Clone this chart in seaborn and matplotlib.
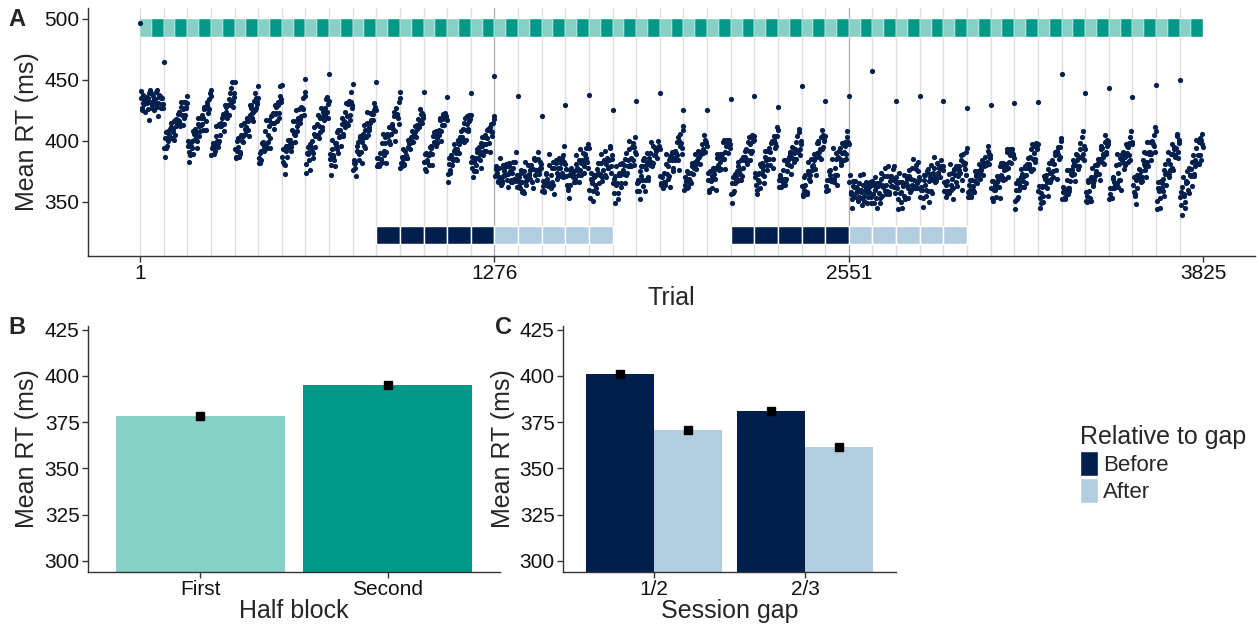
import numpy as np
import pandas as pd
import matplotlib.pyplot as plt
import seaborn as sns
from matplotlib.patches import Patch

# panel A: mean RT per trial, 45 blocks of 85 trials (3 sessions of 15 blocks)
block_len = 85
n_blocks = 45
# first trial of every block (the high point on each block line)
first_trial_rt = [497, 465, 437, 442, 448, 445, 446, 451, 455, 447, 448, 440, 440, 436, 439,
                  453, 437, 420, 429, 438, 425, 433, 439, 425, 425, 434, 437, 428, 445, 433,
                  437, 457, 433, 437, 433, 427, 429, 431, 432, 455, 439, 443, 436, 446, 450]
# rest of each block, read at trial offsets 2, 6, ..., 82 (a) and 4, 8, ..., 84 (b)
session1_a = [
    [435, 427, 438, 430, 424, 436, 433, 426, 439, 432, 429, 437, 425, 434, 440, 428, 431, 438, 427, 435, 430],
    [394, 402, 394, 408, 405, 402, 415, 402, 410, 416, 405, 418, 422, 416, 414, 428, 421, 426, 419, 432, 428],
    [396, 391, 388, 399, 394, 408, 401, 407, 400, 414, 412, 408, 419, 414, 419, 428, 416, 429, 427, 426, 439],
    [388, 398, 396, 392, 404, 400, 398, 414, 412, 412, 422, 414, 420, 428, 419, 429, 434, 430, 443, 433, 439],
    [393, 387, 400, 395, 391, 405, 404, 399, 415, 410, 409, 419, 409, 421, 429, 419, 424, 433, 425, 435, 432],
    [382, 390, 384, 398, 397, 395, 408, 397, 405, 412, 402, 415, 421, 415, 415, 429, 423, 429, 423, 437, 434],
    [387, 383, 380, 392, 387, 401, 395, 401, 395, 409, 408, 405, 416, 412, 417, 426, 415, 428, 427, 426, 440],
    [381, 390, 389, 384, 397, 392, 390, 406, 404, 404, 414, 405, 412, 419, 411, 420, 425, 421, 434, 424, 430],
    [385, 380, 393, 387, 384, 398, 398, 393, 409, 404, 404, 414, 404, 416, 424, 415, 420, 430, 421, 432, 429],
    [376, 384, 378, 392, 391, 389, 402, 391, 399, 406, 396, 409, 415, 409, 409, 423, 417, 423, 417, 431, 428],
    [386, 381, 379, 390, 385, 398, 392, 398, 391, 405, 404, 400, 411, 406, 412, 420, 408, 421, 420, 419, 432],
    [378, 387, 385, 380, 392, 388, 386, 401, 399, 398, 408, 399, 405, 412, 403, 413, 418, 413, 426, 415, 421],
    [383, 377, 390, 384, 380, 395, 394, 389, 404, 399, 398, 408, 398, 409, 417, 408, 413, 422, 413, 423, 420],
    [373, 381, 374, 388, 386, 384, 397, 385, 393, 400, 390, 403, 408, 402, 401, 415, 409, 414, 408, 421, 418],
    [383, 378, 375, 385, 380, 393, 386, 392, 384, 398, 396, 392, 403, 397, 402, 410, 398, 411, 408, 407, 420],
]
session1_b = [
    [441, 425, 431, 434, 432, 431, 435, 417, 442, 439, 427, 431, 434, 430, 442, 420, 436, 437, 435, 430, 427],
    [387, 407, 396, 400, 403, 410, 411, 407, 401, 417, 412, 415, 417, 424, 412, 432, 413, 432, 421, 427, 431],
    [400, 383, 396, 400, 389, 406, 410, 404, 394, 419, 404, 413, 421, 409, 426, 427, 409, 432, 423, 434, 437],
    [394, 396, 389, 396, 412, 395, 400, 405, 415, 419, 420, 408, 429, 424, 421, 421, 439, 429, 448, 428, 436],
    [386, 392, 402, 387, 389, 413, 400, 404, 406, 411, 416, 416, 404, 429, 427, 423, 416, 439, 427, 430, 435],
    [386, 382, 392, 399, 392, 393, 417, 394, 399, 417, 394, 420, 423, 410, 422, 428, 416, 432, 419, 445, 432],
    [393, 381, 373, 396, 395, 396, 397, 392, 398, 416, 406, 399, 425, 408, 419, 418, 420, 427, 435, 421, 437],
    [374, 395, 391, 376, 395, 400, 386, 411, 395, 405, 421, 402, 407, 427, 409, 424, 417, 427, 436, 419, 433],
    [389, 372, 401, 388, 379, 396, 407, 390, 403, 409, 396, 419, 406, 411, 431, 414, 413, 433, 417, 440, 427],
    [382, 382, 371, 396, 399, 384, 404, 382, 402, 413, 394, 403, 424, 405, 411, 415, 422, 422, 425, 426, 425],
    [379, 386, 381, 382, 383, 406, 388, 403, 382, 406, 411, 397, 406, 414, 410, 424, 400, 427, 422, 414, 435],
    [382, 379, 393, 381, 387, 386, 395, 398, 393, 403, 400, 404, 407, 407, 410, 412, 411, 416, 422, 423, 419],
    [389, 375, 383, 388, 388, 390, 396, 380, 407, 406, 396, 402, 407, 405, 419, 400, 418, 421, 421, 418, 417],
    [366, 386, 376, 380, 384, 392, 393, 390, 384, 401, 397, 400, 403, 410, 399, 419, 401, 420, 410, 416, 421],
    [387, 370, 383, 386, 375, 391, 395, 389, 378, 403, 388, 397, 405, 392, 409, 409, 391, 414, 404, 415, 418],
]
session2_a = [
    [371, 379, 374, 366, 378, 369, 365, 380, 375, 372, 381, 368, 373, 379, 366, 374, 378, 369, 383, 367, 372],
    [370, 361, 374, 366, 359, 375, 371, 364, 380, 372, 369, 380, 366, 377, 386, 372, 376, 385, 373, 383, 378],
    [359, 367, 358, 373, 369, 365, 380, 364, 372, 378, 364, 378, 382, 374, 371, 386, 378, 382, 374, 388, 383],
    [371, 364, 360, 372, 364, 378, 370, 375, 366, 381, 378, 372, 384, 376, 382, 390, 374, 389, 386, 383, 397],
    [360, 369, 365, 359, 372, 364, 361, 377, 374, 372, 382, 370, 376, 384, 372, 381, 386, 378, 394, 379, 385],
    [365, 357, 371, 364, 357, 374, 372, 365, 382, 375, 373, 385, 372, 384, 393, 380, 386, 395, 384, 395, 391],
    [359, 368, 359, 375, 371, 368, 384, 368, 377, 383, 370, 386, 390, 383, 380, 396, 389, 393, 386, 400, 396],
    [371, 365, 361, 374, 366, 381, 373, 379, 371, 387, 384, 378, 391, 384, 390, 399, 384, 400, 396, 394, 409],
    [360, 370, 367, 361, 374, 367, 365, 382, 379, 378, 389, 377, 384, 392, 381, 391, 397, 390, 405, 391, 398],
    [368, 360, 375, 367, 361, 378, 376, 369, 386, 380, 378, 389, 377, 389, 399, 385, 391, 401, 390, 401, 397],
    [356, 365, 357, 373, 370, 367, 383, 368, 377, 384, 371, 387, 392, 385, 383, 399, 392, 397, 390, 405, 401],
    [370, 364, 360, 373, 366, 381, 373, 379, 371, 387, 384, 380, 392, 385, 391, 400, 385, 401, 398, 396, 411],
    [362, 372, 369, 363, 376, 369, 367, 384, 381, 380, 391, 379, 386, 394, 383, 393, 399, 392, 407, 393, 400],
    [363, 355, 370, 364, 358, 375, 373, 367, 385, 379, 377, 389, 377, 390, 400, 387, 393, 403, 393, 405, 401],
    [359, 368, 360, 375, 372, 369, 385, 369, 378, 385, 372, 387, 392, 385, 383, 398, 391, 396, 389, 403, 399],
]
session2_b = [
    [377, 377, 367, 370, 386, 364, 367, 371, 378, 379, 379, 362, 382, 375, 368, 366, 383, 368, 391, 362, 369],
    [363, 366, 376, 358, 357, 383, 367, 369, 371, 373, 376, 377, 361, 385, 384, 376, 368, 391, 375, 378, 381],
    [363, 359, 366, 374, 364, 363, 389, 361, 366, 383, 356, 383, 384, 369, 378, 385, 371, 385, 370, 396, 381],
    [377, 362, 353, 376, 372, 373, 372, 366, 369, 388, 376, 366, 393, 372, 384, 382, 379, 388, 394, 378, 394],
    [353, 374, 367, 351, 370, 372, 357, 382, 365, 373, 389, 367, 371, 392, 370, 385, 378, 384, 396, 374, 388],
    [369, 349, 379, 365, 352, 372, 381, 362, 376, 380, 365, 390, 374, 379, 400, 379, 379, 398, 380, 403, 389],
    [365, 366, 352, 379, 379, 363, 386, 359, 380, 390, 368, 380, 399, 379, 382, 388, 394, 392, 394, 395, 393],
    [364, 370, 363, 366, 364, 389, 369, 384, 362, 388, 391, 375, 386, 392, 388, 403, 376, 406, 398, 389, 412],
    [364, 362, 375, 362, 369, 365, 374, 379, 373, 383, 381, 382, 386, 387, 388, 390, 390, 393, 401, 399, 396],
    [374, 358, 368, 371, 369, 373, 378, 360, 389, 387, 376, 383, 386, 385, 401, 377, 396, 400, 398, 396, 394],
    [349, 370, 359, 365, 368, 375, 379, 373, 368, 385, 378, 384, 387, 393, 381, 403, 384, 403, 392, 400, 404],
    [374, 356, 368, 374, 361, 379, 382, 376, 365, 392, 376, 385, 394, 380, 398, 399, 378, 404, 394, 404, 409],
    [368, 370, 362, 367, 384, 364, 369, 375, 384, 387, 389, 373, 395, 390, 385, 385, 404, 391, 410, 388, 397],
    [356, 360, 372, 356, 356, 383, 369, 372, 376, 380, 384, 386, 372, 398, 398, 391, 385, 409, 395, 400, 404],
    [363, 360, 368, 376, 367, 367, 394, 366, 372, 390, 364, 392, 394, 380, 390, 397, 384, 399, 385, 408, 397],
]
session3_a = [
    [366, 358, 352, 363, 354, 367, 357, 361, 351, 365, 360, 353, 364, 355, 359, 366, 349, 363, 358, 354, 367],
    [356, 365, 360, 353, 365, 357, 353, 369, 364, 362, 371, 359, 364, 371, 358, 367, 371, 363, 377, 362, 367],
    [361, 352, 366, 357, 350, 366, 363, 355, 371, 364, 361, 371, 358, 369, 378, 363, 368, 377, 365, 375, 370],
    [354, 362, 353, 368, 364, 360, 375, 359, 367, 373, 359, 374, 378, 370, 367, 382, 374, 378, 370, 384, 379],
    [366, 359, 354, 367, 359, 373, 364, 369, 361, 376, 372, 366, 378, 371, 376, 384, 368, 383, 380, 377, 391],
    [354, 364, 360, 354, 368, 360, 358, 375, 371, 370, 381, 369, 376, 384, 372, 382, 387, 380, 396, 381, 388],
    [361, 353, 367, 360, 354, 371, 368, 362, 379, 372, 370, 382, 369, 381, 391, 378, 383, 393, 382, 393, 389],
    [351, 360, 352, 368, 365, 362, 377, 362, 371, 378, 365, 381, 386, 379, 377, 393, 385, 390, 383, 398, 394],
    [359, 353, 349, 362, 355, 371, 363, 369, 361, 377, 374, 369, 382, 375, 381, 391, 376, 392, 389, 387, 402],
    [352, 362, 359, 354, 368, 361, 359, 376, 373, 372, 384, 373, 380, 388, 377, 387, 393, 387, 403, 389, 396],
    [358, 350, 366, 359, 353, 370, 369, 363, 380, 374, 373, 385, 373, 385, 396, 383, 389, 399, 389, 401, 397],
    [352, 361, 353, 369, 366, 364, 380, 365, 374, 381, 368, 384, 389, 382, 380, 397, 390, 395, 388, 403, 399],
    [364, 358, 355, 368, 361, 377, 369, 375, 367, 384, 381, 376, 390, 383, 389, 399, 384, 400, 397, 396, 411],
    [351, 361, 359, 353, 367, 361, 359, 376, 373, 373, 384, 373, 381, 389, 378, 389, 395, 388, 404, 391, 398],
    [354, 347, 362, 355, 350, 367, 366, 360, 378, 372, 371, 383, 371, 384, 394, 382, 388, 399, 388, 401, 397],
]
session3_b = [
    [372, 356, 345, 367, 362, 362, 359, 352, 354, 372, 358, 347, 373, 351, 361, 358, 354, 362, 366, 349, 364],
    [349, 370, 362, 345, 363, 365, 349, 374, 355, 363, 378, 356, 359, 379, 356, 371, 363, 369, 379, 357, 370],
    [365, 344, 374, 358, 345, 364, 372, 352, 365, 369, 353, 376, 360, 364, 385, 362, 361, 380, 361, 383, 368],
    [360, 360, 346, 372, 372, 355, 377, 350, 370, 380, 357, 368, 387, 366, 369, 374, 379, 377, 378, 379, 376],
    [359, 364, 356, 359, 357, 381, 360, 374, 352, 377, 379, 363, 373, 379, 374, 388, 360, 389, 382, 372, 394],
    [358, 356, 368, 355, 363, 358, 367, 372, 365, 375, 373, 374, 378, 379, 379, 381, 380, 383, 392, 389, 386],
    [367, 351, 360, 364, 362, 366, 370, 353, 382, 379, 368, 376, 378, 377, 393, 370, 388, 392, 390, 388, 386],
    [344, 365, 354, 360, 363, 370, 373, 367, 362, 379, 372, 378, 381, 387, 375, 397, 377, 396, 385, 393, 397],
    [363, 345, 357, 363, 350, 369, 372, 366, 355, 382, 366, 374, 384, 370, 388, 390, 369, 395, 385, 395, 400],
    [358, 360, 352, 358, 376, 356, 361, 367, 376, 379, 382, 367, 389, 384, 379, 379, 398, 386, 408, 384, 393],
    [351, 355, 368, 351, 351, 378, 365, 368, 371, 375, 380, 382, 368, 393, 394, 387, 381, 405, 391, 396, 400],
    [356, 353, 361, 370, 361, 362, 389, 362, 368, 386, 360, 389, 391, 377, 387, 396, 383, 398, 384, 408, 397],
    [370, 356, 348, 372, 369, 372, 371, 366, 370, 391, 379, 370, 399, 379, 391, 391, 389, 399, 405, 391, 408],
    [344, 366, 361, 345, 365, 369, 355, 381, 364, 374, 391, 370, 376, 397, 376, 393, 387, 394, 406, 386, 401],
    [358, 339, 370, 356, 345, 365, 375, 357, 372, 377, 363, 388, 373, 379, 401, 381, 381, 402, 384, 406, 395],
]
x_ticks_a = [1, 1276, 2551, 3825]
before_blocks = [11, 12, 13, 14, 15, 26, 27, 28, 29, 30]
after_blocks = [16, 17, 18, 19, 20, 31, 32, 33, 34, 35]

# panel B
half_labels = ['First', 'Second']
half_rt = [378.2, 395.3]
half_se = [0.7, 0.7]

# panel C
gap_labels = ['1/2', '2/3']
rel_labels = ['Before', 'After']
gap_before_rt = [401.2, 380.8]
gap_after_rt = [370.6, 361.8]
gap_se = [1.0, 0.9]

navy = '#001F4C'
pale_blue = '#B3CDE0'
teal_light = '#86D0C6'
teal_dark = '#009886'
ink = '#111111'

rows = []
blocks_a = session1_a + session2_a + session3_a
blocks_b = session1_b + session2_b + session3_b
for b in range(n_blocks):
    start = 1 + b * block_len
    rows.append((start, first_trial_rt[b]))
    for k in range(len(blocks_a[b])):
        rows.append((start + 2 + 4 * k, blocks_a[b][k]))
        rows.append((start + 4 + 4 * k, blocks_b[b][k]))
trials = pd.DataFrame(rows, columns=['trial', 'rt'])

sns.set_style('white')
plt.rcParams['font.family'] = ['Liberation Sans', 'DejaVu Sans']

fig = plt.figure(figsize=(12.57, 6.30), dpi=100)
W, H = 1257, 630
axA = fig.add_axes([88 / W, 1 - 256 / H, 1167 / W, 248 / H])
axB = fig.add_axes([88 / W, 1 - 572 / H, 412 / W, 246 / H])
axC = fig.add_axes([563 / W, 1 - 572 / H, 333 / W, 246 / H])

# --- A ---
for b in range(n_blocks):
    s = 1 + b * block_len
    col = '#B0B0B0' if s in (1276, 2551) else '#DEDEDE'
    axA.axvline(s, color=col, lw=1, zorder=0)
half = block_len / 2
lefts = [1 + b * block_len + h * half for b in range(n_blocks) for h in (0, 1)]
cols = [teal_light, teal_dark] * n_blocks
axA.bar(lefts, 15, width=half, bottom=485, align='edge', color=cols,
        edgecolor='white', linewidth=0.3, zorder=1)
axA.bar([1 + (b - 1) * block_len for b in before_blocks], 15, width=block_len, bottom=315,
        align='edge', color=navy, edgecolor='white', linewidth=1, zorder=1)
axA.bar([1 + (b - 1) * block_len for b in after_blocks], 15, width=block_len, bottom=315,
        align='edge', color=pale_blue, edgecolor='white', linewidth=1, zorder=1)
sns.scatterplot(data=trials, x='trial', y='rt', color=navy, s=14, linewidth=0, ax=axA, zorder=3)
axA.set_xlim(-186, 4012)
axA.set_ylim(305.5, 509)
axA.set_xticks(x_ticks_a)
axA.set_yticks([350, 400, 450, 500])
axA.set_xlabel('Trial', fontsize=18, labelpad=2)
axA.set_ylabel('Mean RT (ms)', fontsize=18, labelpad=4)

# --- B ---
half_df = pd.DataFrame({'half': half_labels, 'rt': half_rt})
sns.barplot(data=half_df, x='half', y='rt', hue='half', palette=[teal_light, teal_dark],
            width=0.9, saturation=1, errorbar=None, legend=False, linewidth=0, ax=axB)
axB.errorbar([0, 1], half_rt, yerr=half_se, fmt='s', color='black', ms=6, elinewidth=1.2, capsize=0)
axB.set_xlabel('Half block', fontsize=18, labelpad=0)
axB.set_ylabel('Mean RT (ms)', fontsize=18, labelpad=4)

# --- C ---
gap_df = pd.DataFrame({'gap': gap_labels * 2, 'rel': ['Before'] * 2 + ['After'] * 2,
                       'rt': gap_before_rt + gap_after_rt})
sns.barplot(data=gap_df, x='gap', y='rt', hue='rel', hue_order=rel_labels,
            palette=[navy, pale_blue], width=0.9, saturation=1, errorbar=None,
            legend=False, linewidth=0, ax=axC)
axC.errorbar([-0.225, 0.775], gap_before_rt, yerr=gap_se, fmt='s', color='black', ms=6,
             elinewidth=1.2, capsize=0)
axC.errorbar([0.225, 1.225], gap_after_rt, yerr=gap_se, fmt='s', color='black', ms=6,
             elinewidth=1.2, capsize=0)
axC.set_xlabel('Session gap', fontsize=18, labelpad=0)
axC.set_ylabel('Mean RT (ms)', fontsize=18, labelpad=3)

for ax in (axB, axC):
    ax.set_xlim(-0.6, 1.6)
    ax.set_ylim(294, 427)
    ax.set_yticks([300, 325, 350, 375, 400, 425])

for ax in (axA, axB, axC):
    sns.despine(ax=ax)
    for sp in ('left', 'bottom'):
        ax.spines[sp].set_color('#333333')
        ax.spines[sp].set_linewidth(1)
    ax.tick_params(axis='both', labelsize=15, labelcolor=ink, color='#333333', length=4,
                   width=1, direction='out', bottom=True, left=True, pad=2)

fig.text(17 / W, 1 - 19 / H, 'A', fontsize=17, fontweight='bold', ha='center', va='center')
fig.text(17 / W, 1 - 327 / H, 'B', fontsize=17, fontweight='bold', ha='center', va='center')
fig.text(504 / W, 1 - 327 / H, 'C', fontsize=17, fontweight='bold', ha='center', va='center')

handles = [Patch(facecolor=navy, label='Before'), Patch(facecolor=pale_blue, label='After')]
fig.legend(handles=handles, title='Relative to gap', loc='upper left',
           bbox_to_anchor=(1071 / W, 1 - 416 / H), frameon=False, fontsize=16,
           title_fontsize=18, handlelength=0.8, handleheight=1.35, handletextpad=0.25,
           labelspacing=0.1, alignment='left', borderaxespad=0)

fig.savefig('out.png', dpi=100)
